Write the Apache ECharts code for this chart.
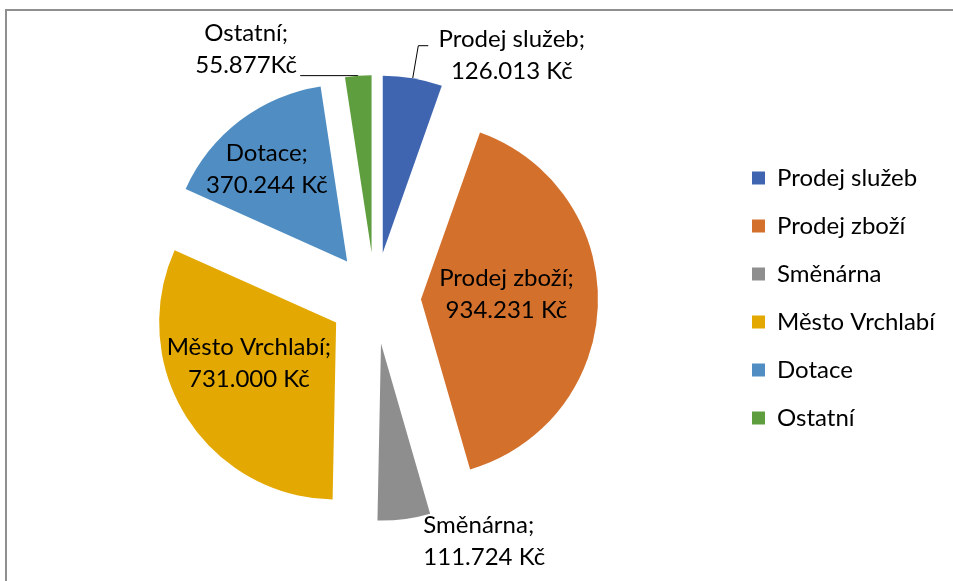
<!DOCTYPE html>
<html>
<head>
<meta charset="utf-8">
<script src="https://cdn.jsdelivr.net/npm/echarts@6/dist/echarts.min.js"></script>
<style>
html,body{margin:0;padding:0;background:#fff;}
#chart{width:953px;height:581px;}
</style>
</head>
<body>
<div id="chart"></div>
<script>
const categories = ['Prodej služeb', 'Prodej zboží', 'Směnárna', 'Město Vrchlabí', 'Dotace', 'Ostatní'];
const values = [126013, 934231, 111724, 731000, 370244, 55877];
const colors = ['#3F65B0', '#D2702C', '#8E8E8E', '#E3A902', '#4F8DC2', '#5F9E3E'];
const labelPositions = ['outside', 'inside', 'outside', 'inside', 'inside', 'outside'];
const unitSeparators = [' ', ' ', ' ', ' ', ' ', ''];

function fmt(v) {
  return String(v).replace(/\B(?=(\d{3})+(?!\d))/g, '.');
}

const FONT = 'Lato';
const FS = 24;
const LH = 32;
const chart = echarts.init(document.getElementById('chart'), null, {renderer: 'canvas'});

// layout-only settings for labels
const labelBoxWidth = {0: 165, 2: 125, 5: 110};
const labelBoxAlign = {0: 'center', 2: 'left', 5: 'center'};
const labelLineLen = {0: [33, 10], 5: [0, 58]};
const labelShift = {
  0: {dx: -4, dy: 10},
  1: {dx: -6, dy: -8},
  2: {dx: 1, dy: 12},
  3: {dx: -10, dy: -8},
  4: {dx: -25, dy: -19},
  5: {dx: 6, dy: -26}
};

const data = categories.map((name, i) => ({
  name: name,
  value: values[i],
  selected: true,
  itemStyle: {color: colors[i]},
  label: {
    position: labelPositions[i],
    rich: {c: {width: labelBoxWidth[i] || 0, align: labelBoxAlign[i] || 'center', fontFamily: FONT, fontSize: FS, lineHeight: LH, color: '#000'}}
  },
  labelLine: labelLineLen[i]
    ? {show: true, length: labelLineLen[i][0], length2: labelLineLen[i][1]}
    : {show: false}
}));

chart.setOption({
  animation: false,
  graphic: [{
    type: 'rect',
    z: -10,
    shape: {x: 6, y: 10, width: 1100, height: 800},
    style: {fill: 'none', stroke: '#8f8f8f', lineWidth: 2}
  }],
  legend: {
    orient: 'vertical',
    left: 752,
    top: 166,
    padding: 0,
    itemWidth: 13,
    itemHeight: 13,
    itemGap: 24,
    icon: 'rect',
    textStyle: {fontFamily: FONT, fontSize: FS, lineHeight: 24, color: '#000', padding: [0, 0, 0, 7]},
    data: categories
  },
  series: [{
    type: 'pie',
    center: [375, 298],
    radius: 177,
    startAngle: 90,
    clockwise: true,
    selectedMode: 'multiple',
    selectedOffset: 46,
    avoidLabelOverlap: false,
    emphasis: {disabled: true},
    label: {
      show: true,
      fontFamily: FONT,
      fontSize: FS,
      lineHeight: LH,
      color: '#000',
      align: 'center',
      formatter: p => {
        const i = p.dataIndex;
        const l1 = p.name + ';';
        const l2 = fmt(p.value) + unitSeparators[i] + 'Kč';
        return labelPositions[i] === 'outside' ? '{c|' + l1 + '}\n{c|' + l2 + '}' : l1 + '\n' + l2;
      }
    },
    labelLine: {
      show: true,
      length: 10,
      length2: 12,
      lineStyle: {color: '#000', width: 1}
    },
    labelLayout: p => labelShift[p.dataIndex] || {},
    data: data
  }]
});
</script>
</body>
</html>
